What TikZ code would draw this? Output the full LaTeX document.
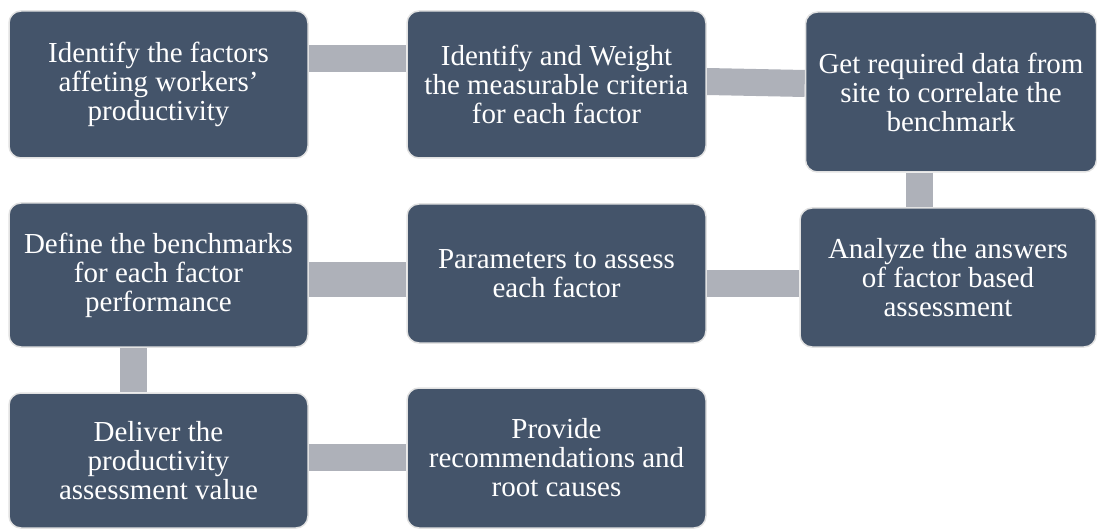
\documentclass[tikz,border=0pt]{standalone}
\usepackage{fontspec}
\setmainfont{Liberation Serif}
\usetikzlibrary{backgrounds}

\definecolor{stagefill}{HTML}{44546A}
\definecolor{linkgray}{HTML}{AEB1B9}
\definecolor{rimgray}{HTML}{E2E2E2}

\tikzset{
  stage/.style={rectangle, rounded corners=12pt, fill=stagefill, draw=rimgray,
    line width=1.5pt, text=white, align=center, inner sep=0pt,
    minimum width=299pt, font=\fontsize{29}{29}\selectfont},
  link/.style={draw=linkgray, line width=27pt}
}

\begin{document}
\begin{tikzpicture}[x=1pt,y=-1pt]
    \useasboundingbox (0,0) rectangle (1097,529);

    % top row
    \node[stage, minimum height=147pt] (factors) at (158.5,84.5)
        {Identify the factors\\affeting workers\symbol{"27}\\productivity};
    \node[stage, minimum height=147pt] (criteria) at (556.5,84.5)
        {Identify and Weight\\the measurable criteria\\for each factor};
    \node[stage, minimum width=291pt, minimum height=160pt] (sitedata) at (951,92)
        {Get required data from\\site to correlate the\\benchmark};

    % middle row
    \node[stage, minimum height=144pt] (benchmarks) at (158.5,275)
        {Define the benchmarks\\for each factor\\performance};
    \node[stage, minimum height=139pt] (params) at (556.5,273.5)
        {Parameters to assess\\each factor};
    \node[stage, minimum width=296pt, minimum height=139pt] (analyze) at (948,277.5)
        {Analyze the answers\\of factor based\\assessment};

    % bottom row
    \node[stage, minimum height=135pt] (deliver) at (158.5,460.5)
        {Deliver the\\productivity\\assessment value};
    \node[stage, minimum height=140pt] (recommend) at (556.5,458)
        {Provide\\recommendations and\\root causes};

    \begin{scope}[on background layer]
        \draw[link] ([yshift=26pt]factors.east) -- ([yshift=26pt]criteria.west);
        \draw[link] ([yshift=3pt]criteria.east) -- ([yshift=8.5pt]sitedata.west);
        \draw[link] ([xshift=-31.5pt]sitedata.south) -- ([xshift=-28.5pt]analyze.north);
        \draw[link] ([yshift=-6pt]analyze.west) -- ([yshift=-10pt]params.east);
        \draw[link, line width=35pt] ([yshift=-6pt]params.west) -- ([yshift=-4.5pt]benchmarks.east);
        \draw[link] ([xshift=-25pt]benchmarks.south) -- ([xshift=-25pt]deliver.north);
        \draw[link] ([yshift=3pt]deliver.east) -- ([yshift=0.5pt]recommend.west);
    \end{scope}
\end{tikzpicture}
\end{document}
